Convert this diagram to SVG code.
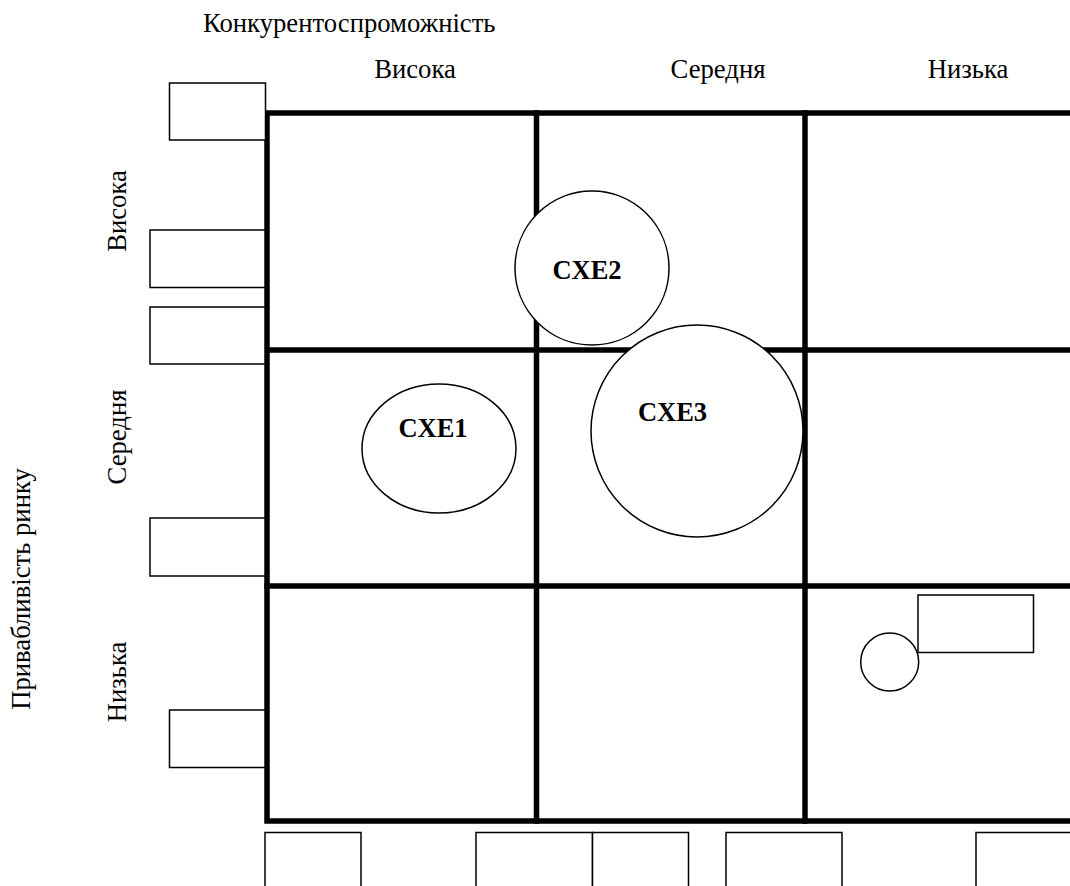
<svg xmlns="http://www.w3.org/2000/svg" width="1070" height="886" viewBox="0 0 1070 886">
<style>
text{font-family:"Liberation Serif","DejaVu Serif","Times New Roman",serif;fill:#000}
.lbl{font-size:26.7px}
.cxe{font-size:26.5px;font-weight:bold;text-anchor:middle}
.box{fill:#fff;stroke:#000;stroke-width:1.5}
.node{fill:#fff;stroke:#000;stroke-width:1.5}
.grid{stroke:#000;stroke-width:5.5;fill:none;stroke-linecap:square}
</style>
<rect width="1070" height="886" fill="#fff"/>
<g id="axis-labels">
<text class="lbl" x="203" y="32">Конкурентоспроможність</text>
<text class="lbl" x="415" y="78" text-anchor="middle">Висока</text>
<text class="lbl" x="718" y="78" text-anchor="middle">Середня</text>
<text class="lbl" x="968" y="78" text-anchor="middle">Низька</text>
<text class="lbl" transform="translate(126,211) rotate(-90)" text-anchor="middle">Висока</text>
<text class="lbl" transform="translate(126,437) rotate(-90)" text-anchor="middle">Середня</text>
<text class="lbl" transform="translate(126,682) rotate(-90)" text-anchor="middle">Низька</text>
<text class="lbl" transform="translate(30,589) rotate(-90)" text-anchor="middle">Привабливість ринку</text>
</g>
<g id="connectors">
<path class="grid" d="M1070,113 H267 V821 H1070"/>
<line class="grid" x1="267" y1="350" x2="1070" y2="350"/>
<line class="grid" x1="267" y1="586" x2="1070" y2="586"/>
<line class="grid" x1="536.5" y1="113" x2="536.5" y2="821"/>
<line class="grid" x1="805" y1="113" x2="805" y2="821"/>
</g>
<g id="side-boxes">
<rect class="box" x="169.5" y="83" width="96" height="57"/>
<rect class="box" x="150" y="230" width="115" height="57.5"/>
<rect class="box" x="150" y="307" width="115" height="57"/>
<rect class="box" x="150" y="518" width="115" height="58"/>
<rect class="box" x="169.5" y="710" width="95.5" height="57.5"/>
</g>
<g id="bottom-boxes">
<rect class="box" x="265" y="832.5" width="96" height="57"/>
<rect class="box" x="476" y="832.5" width="116.5" height="57"/>
<rect class="box" x="592.5" y="832.5" width="96" height="57"/>
<rect class="box" x="726" y="832.5" width="116" height="57"/>
<rect class="box" x="976" y="832.5" width="116" height="57"/>
</g>
<g id="cxe2">
<circle class="node" cx="592" cy="268" r="77"/>
<text class="cxe" x="587" y="279">CXE2</text>
</g>
<g id="cxe3">
<circle class="node" cx="697" cy="431" r="106"/>
<text class="cxe" x="672.5" y="421">CXE3</text>
</g>
<g id="cxe1">
<ellipse class="node" cx="439" cy="448.5" rx="77" ry="64.5"/>
<text class="cxe" x="433" y="437">CXE1</text>
</g>
<g id="small-circle">
<circle class="node" cx="889.7" cy="662" r="29"/>
</g>
<g id="small-box">
<rect class="box" x="918" y="595" width="115.5" height="57.5"/>
</g>
</svg>
